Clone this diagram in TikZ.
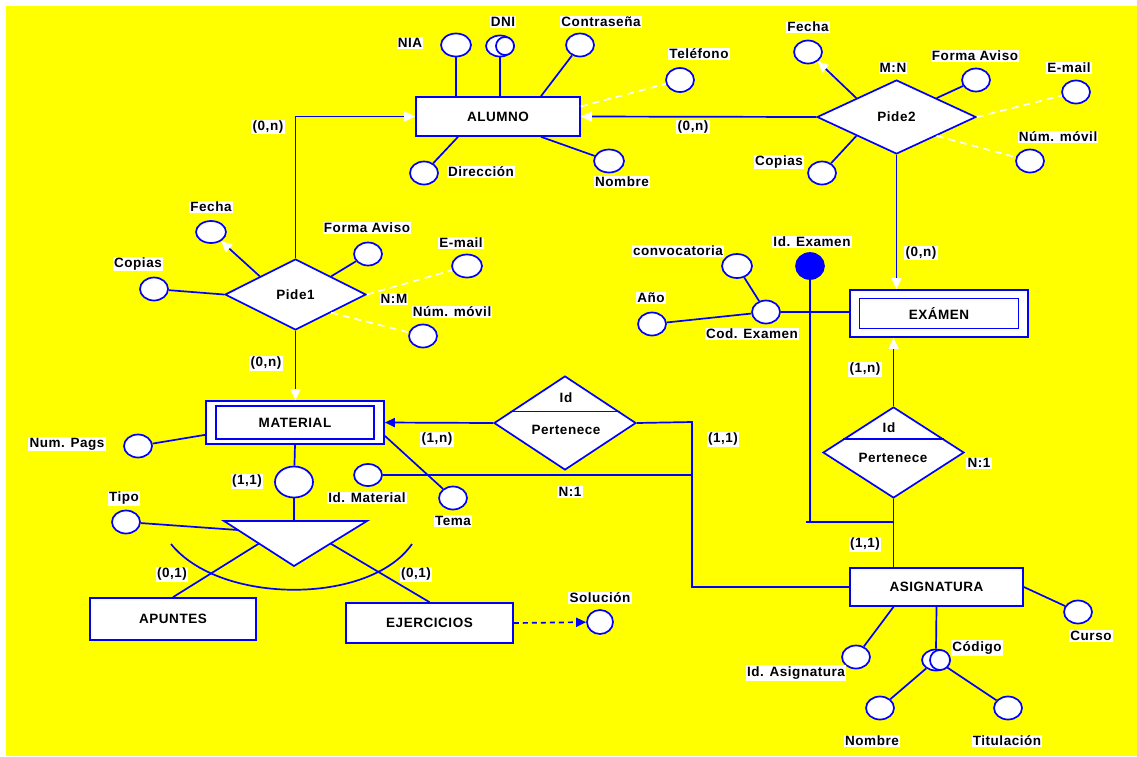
\documentclass[tikz,border=0pt]{standalone}
\usepackage{fontspec}
\setmainfont[LetterSpace=4]{Liberation Sans}
\usetikzlibrary{positioning,shapes.geometric,arrows.meta,calc}
\definecolor{erBlue}{RGB}{0,0,255}
\definecolor{erYellow}{RGB}{255,255,0}
\tikzset{
  entity/.style={rectangle, draw=erBlue, fill=white, line width=1.7pt, inner sep=0pt},
  relation/.style={diamond, draw=erBlue, fill=white, line width=1.7pt, inner sep=0pt},
  relText/.style={inner sep=1pt},
  attr/.style={ellipse, draw=erBlue, fill=white, line width=1.7pt, inner sep=0pt,
    minimum width=28pt, minimum height=23pt},
  keyAttr/.style={attr, fill=erBlue},
  tag/.style={fill=white, inner sep=1.2pt},
  link/.style={draw=erBlue, line width=1.7pt},
  optLink/.style={draw=white, line width=1.7pt, dash pattern=on 7pt off 5pt},
  whiteHead/.style={-{Triangle[color=white,length=11pt,width=10pt]}},
  blueHead/.style={-{Triangle[color=erBlue,length=10pt,width=9pt]}}
}
\begin{document}
\begin{tikzpicture}[x=1pt, y=-1pt, font=\fontsize{13.5}{14}\selectfont\bfseries]
\useasboundingbox (0,0) rectangle (1137,756);
\fill[white] (0,0) rectangle (1137,756);
\fill[erYellow] (6,6) rectangle (1137,756);

% entidades
\node[entity, minimum width=164pt, minimum height=39pt] (alumno) at (498,116.5) {ALUMNO};
\node[entity, minimum width=178pt, minimum height=47pt] (examen) at (939,313.5) {};
\node[entity, minimum width=159pt, minimum height=30pt] (examenIn) at (examen) {EXÁMEN};
\node[entity, minimum width=178pt, minimum height=43pt] (material) at (295,422.5) {};
\node[entity, minimum width=158pt, minimum height=33pt] (materialIn) at (material) {MATERIAL};
\node[entity, minimum width=173pt, minimum height=38pt] (asig) at (936.5,587) {ASIGNATURA};
\node[entity, minimum width=166pt, minimum height=42pt] (apuntes) at (173,619) {APUNTES};
\node[entity, minimum width=167pt, minimum height=40pt] (ejer) at (429.5,623) {EJERCICIOS};

% relaciones
\node[relation, minimum width=159pt, minimum height=74pt] (pide2) at (896.5,117) {Pide2};
\node[relation, minimum width=141pt, minimum height=71pt] (pide1) at (295.5,294.5) {Pide1};
\node[relation, minimum width=142pt, minimum height=94pt] (pert1) at (565,423) {};
\node[relText] (pert1Id) at (566,398) {Id};
\node[relText] (pert1Txt) at (566,430) {Pertenece};
\node[relation, minimum width=141pt, minimum height=91pt] (pert2) at (893.5,452.5) {};
\node[relText] (pert2Id) at (889,428) {Id};
\node[relText] (pert2Txt) at (893,458) {Pertenece};
\draw[link] ($(pert1.north)!0.76!(pert1.west)$) -- ($(pert1.north)!0.76!(pert1.east)$);
\draw[link] ($(pert2.north)!0.71!(pert2.west)$) -- ($(pert2.north)!0.71!(pert2.east)$);

% atributos ALUMNO
\node[attr, minimum width=30pt] (nia) at (456,45) {};
\node[attr, minimum height=21pt] (dni) at (500,46) {};
\node[attr, circle, minimum size=18pt] (dniIn) at (505,46) {};
\node[attr] (contra) at (580,45) {};
\node[attr, minimum height=24pt] (tel) at (680,80) {};
\node[attr] (dir) at (424,173) {};
\node[attr, minimum width=30pt] (nom) at (609,161) {};
\node[tag] (tNia) at (410,43) {NIA};
\node[tag] (tDni) at (503,22) {DNI};
\node[tag] (tContra) at (601,22) {Contraseña};
\node[tag] (tTel) at (699,54) {Teléfono};
\node[tag] (tDir) at (481,172) {Dirección};
\node[tag] (tNom) at (622,182) {Nombre};
\node[tag] (tCardA) at (268,127) {(0,n)};
\node[tag] (tCardB) at (693,127) {(0,n)};

% atributos Pide2
\node[attr] (fecha2) at (808,52) {};
\node[attr] (forma2) at (976,80) {};
\node[attr] (email2) at (1076,92) {};
\node[attr] (movil2) at (1030,161) {};
\node[attr] (copias2) at (822,173) {};
\node[tag] (tFecha2) at (808,27) {Fecha};
\node[tag] (tMN2) at (893,68) {M:N};
\node[tag] (tForma2) at (975,56) {Forma Aviso};
\node[tag] (tEmail2) at (1069,68) {E-mail};
\node[tag] (tMovil2) at (1058,137) {Núm. móvil};
\node[tag] (tCopias2) at (779,162) {Copias};

% atributos Pide1
\node[attr, minimum width=30pt, minimum height=22pt] (fecha1) at (211,232) {};
\node[attr] (forma1) at (368,254) {};
\node[attr, minimum width=30pt] (email1) at (467,266) {};
\node[attr] (movil1) at (423,336) {};
\node[attr] (copias1) at (154,289) {};
\node[tag] (tFecha1) at (211,207) {Fecha};
\node[tag] (tForma1) at (367,228) {Forma Aviso};
\node[tag] (tEmail1) at (461,243) {E-mail};
\node[tag] (tCopias1) at (138,264) {Copias};
\node[tag] (tNM1) at (394,299) {N:M};
\node[tag] (tMovil1) at (452,312) {Núm. móvil};
\node[tag] (tCardC) at (266,363) {(0,n)};

% atributos EXAMEN
\node[attr, minimum width=30pt, minimum height=24pt] (conv) at (737,266) {};
\node[keyAttr, minimum height=26pt] (idex) at (810,266) {};
\node[attr] (cod) at (766,312) {};
\node[attr] (anio) at (652,324) {};
\node[tag] (tConv) at (678,251) {convocatoria};
\node[tag] (tIdex) at (812,242) {Id. Examen};
\node[tag] (tAnio) at (651,298) {Año};
\node[tag] (tCod) at (752,334) {Cod. Examen};
\node[tag] (tCardD) at (921,253) {(0,n)};
\node[tag] (tCardE) at (865,369) {(1,n)};

% atributos MATERIAL
\node[attr] (numpag) at (138,446) {};
\node[attr, minimum width=38pt, minimum height=31pt] (matcirc) at (294,482) {};
\node[attr] (tema) at (453,498) {};
\node[attr] (tipo) at (126,522) {};
\node[attr, minimum height=22pt] (idmat) at (368,475) {};
\node[attr, minimum width=26pt, minimum height=24pt] (sol) at (600,622) {};
\node[tag] (tNumpag) at (67,444) {Num. Pags};
\node[tag] (tCardF) at (247,481) {(1,1)};
\node[tag] (tTipo) at (124,498) {Tipo};
\node[tag] (tIdmat) at (367,498) {Id. Material};
\node[tag] (tTema) at (453,521) {Tema};
\node[tag] (tCardG) at (172,574) {(0,1)};
\node[tag] (tCardH) at (416,574) {(0,1)};
\node[tag] (tSol) at (600,598) {Solución};
\node[tag] (tCardI) at (437,439) {(1,n)};
\node[tag] (tCardJ) at (723,439) {(1,1)};
\node[tag] (tN1a) at (570,492) {N:1};
\node[tag] (tN1b) at (979,463) {N:1};
\node[tag] (tCardK) at (865,544) {(1,1)};

% atributos ASIGNATURA
\node[attr] (curso) at (1078,612) {};
\node[attr] (idasig) at (856,657) {};
\node[attr, minimum height=21pt] (codigo) at (936,660) {};
\node[attr, circle, minimum size=20pt] (codIn) at (940,660) {};
\node[attr] (nom2) at (880,708) {};
\node[attr] (tit) at (1008,708) {};
\node[tag] (tCurso) at (1091,636) {Curso};
\node[tag] (tIdasig) at (796,673) {Id. Asignatura};
\node[tag] (tCodigo) at (977,648) {Código};
\node[tag] (tNom2) at (872,741) {Nombre};
\node[tag] (tTit) at (1007,741) {Titulación};

% jerarquia
\coordinate (isaL) at (224,521);
\coordinate (isaR) at (367,521);
\coordinate (isaB) at (294,566);
\coordinate (arcL) at (171,544);
\coordinate (arcR) at (412,544);
\coordinate (jn) at (692,422);
\coordinate (ix) at (806,522);
\filldraw[link, fill=white] (isaL) -- (isaR) -- (isaB) -- cycle;

% conexiones
\draw[link] (nia.south) -- (nia.south |- alumno.north);
\draw[link] (dni.south) -- (dni.south |- alumno.north);
\draw[link] (contra) -- ([xshift=43pt]alumno.north);
\draw[link] (dir) -- ([xshift=-40pt]alumno.south);
\draw[link] (nom) -- ([xshift=43pt]alumno.south);
\draw[optLink] ([yshift=10pt]alumno.east) -- (tel);
\draw[link, whiteHead] (pide2.west) -- (alumno.east);
\draw[link, whiteHead] (pide1.north) |- (alumno.west);

\draw[link, whiteHead] ($(pide2.north)!0.5!(pide2.west)$) -- (fecha2);
\draw[link] ($(pide2.north)!0.5!(pide2.east)$) -- (forma2);
\draw[optLink] (pide2.east) -- (email2);
\draw[optLink] ($(pide2.south)!0.5!(pide2.east)$) -- (movil2);
\draw[link] ($(pide2.south)!0.5!(pide2.west)$) -- (copias2);
\draw[link, whiteHead] (pide2.south) -- (pide2.south |- examen.north);

\draw[link, whiteHead] ($(pide1.north)!0.5!(pide1.west)$) -- (fecha1);
\draw[link] ($(pide1.north)!0.5!(pide1.east)$) -- (forma1);
\draw[optLink] (pide1.east) -- (email1);
\draw[optLink] ($(pide1.south)!0.5!(pide1.east)$) -- (movil1);
\draw[link] (pide1.west) -- (copias1);
\draw[link, whiteHead] (pide1.south) -- (pide1.south |- material.north);

\draw[link] (conv) -- (cod);
\draw[link] (anio) -- (cod);
\draw[link] (cod.east) -- (cod.east -| examen.west);
\draw[link] (idex.south) -- (idex.south |- ix);
\draw[link] (ix) -- (ix -| pert2.south);
\draw[link, whiteHead] (pert2.north) -- (pert2.north |- examen.south);
\draw[link] (pert2.south) -- (pert2.south |- asig.north);

\draw[link, blueHead] (pert1.west) -- (material.east);
\draw[link] (pert1.east) -- (jn) |- (asig.west);
\draw[link] (idmat.east) -- (idmat.east -| jn);
\draw[link] (numpag) -- ([yshift=10pt]material.south west);
\draw[link] ([yshift=9pt]material.south east) -- (tema);
\draw[link] (material.south) -- (matcirc);
\draw[link] (matcirc.south) -- (matcirc.south |- isaL);
\draw[link] (tipo) -- ($(isaL)!0.2!(isaB)$);
\draw[link] ($(isaL)!0.5!(isaB)$) -- (apuntes.north);
\draw[link] ($(isaR)!0.5!(isaB)$) -- (ejer.north);
\draw[link] (arcL) .. controls (220,605) and (370,605) .. (arcR);
\draw[link, blueHead, dash pattern=on 5pt off 4pt] (ejer.east) -- (sol);

\draw[link] (asig.east) -- (curso);
\draw[link] ([xshift=-43pt]asig.south) -- (idasig);
\draw[link] (asig.south) -- (codigo.north);
\draw[link] (codigo) -- (nom2);
\draw[link] (codigo) -- (tit);
\end{tikzpicture}
\end{document}
